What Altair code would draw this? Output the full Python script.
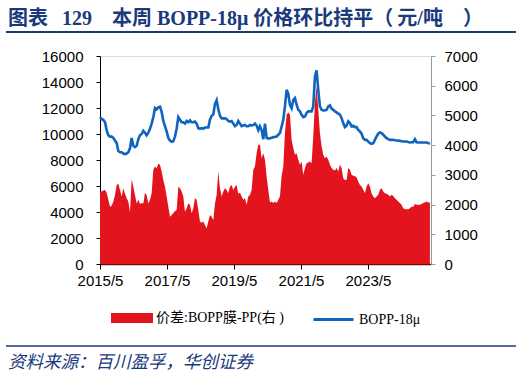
import altair as alt
import pandas as pd

# BOPP-18μ price (left axis, 元/吨), sampled evenly from 2015/5 to 2025/3
price_part1 = [
    11300, 11150, 11100, 10900, 10300, 9900, 9800, 9800, 9700, 9500,
    9300, 8700, 8600, 8600, 8500, 8450, 8500, 8600, 8900, 9700,
    9100, 9000, 9100, 9600, 9900, 10000, 10250, 10100, 9900, 10100,
    10400, 10800, 11300, 12000, 11900, 12050, 12100, 11700, 11000, 10600,
    10200, 9700, 9500, 9400, 9450, 9800, 10400, 11300, 11100, 10900,
    10900, 10800, 11000, 10900, 11050, 10900, 10900, 10950, 10800, 10450,
    10400, 10450, 10400, 10500, 10500, 10500, 11100, 11400, 11500, 12300,
    12600, 11900, 11400, 11200, 11200, 11200, 11150, 11000, 10950, 11000,
    10800, 10600, 10700, 11000, 10800, 10600, 10650, 10700, 10600, 10600,
    10700, 10650, 10700, 10800, 10650, 10300,
]
price_part2 = [
    10600, 10300, 9600, 10800, 9700, 9650, 9680, 9700, 9760, 9780,
    9810, 9940, 10070, 10580, 11090, 12120, 13400, 13100, 12250, 11990,
    12630, 12760, 12250, 11860, 11740, 11480, 11300, 11350, 11610, 11740,
    11740, 11740, 12120, 14430, 14900, 13400, 12120, 11860, 11810, 11810,
    11860, 12120, 12200, 11950, 11860, 11740, 11660, 11560, 11480, 11220,
    10840, 10530, 10630, 10970, 10840, 10580, 10630, 10530, 10530, 10320,
    10200, 10020, 9680, 9550, 9550, 9420, 9300, 9250, 9300, 9550,
    9810, 10020, 10120, 10070, 9940, 9810, 9680, 9600, 9550, 9550,
    9550, 9520, 9500, 9490, 9480, 9450, 9420, 9420, 9420, 9380,
    9350, 9360, 9370, 9600, 9370, 9350, 9350, 9350, 9350, 9350,
    9350, 9300, 9250,
]

# 价差: BOPP膜 - PP (right axis, 元/吨)
spread_part1 = [
    2440, 2440, 2470, 2490, 2400, 2160, 1930, 1960, 2100, 2320,
    2660, 2700, 2490, 2270, 2550, 2360, 2210, 2100, 1730, 2850,
    2600, 2320, 2040, 2160, 2020, 2050, 2040, 2400, 2320, 2040,
    2160, 2380, 3170, 3280, 3220, 3370, 3340, 3110, 2830, 2600,
    2270, 1930, 1590, 1650, 1710, 1780, 1820, 2600, 2550, 2440,
    2270, 1760, 1880, 2040, 1990, 1710, 1880, 2210, 2160, 1820,
    1430, 1390, 1430, 1310, 1200, 1430, 1650, 1590, 1480, 2040,
    2320, 3110, 2550, 2270, 2440, 2550, 2490, 2380, 2600, 2660,
    2490, 2600, 2660, 2360, 2400, 2270, 2160, 2210, 1990, 2270,
    2320, 2490, 3170, 3280, 3730, 4010,
]
spread_part2 = [
    4010, 3560, 3730, 3510, 2950, 2500, 2070, 2100, 2050, 2100,
    2050, 2160, 2270, 2950, 3280, 4400, 5020, 5100, 5020, 4180,
    3900, 3680, 3730, 3510, 3340, 3450, 3000, 3230, 3390, 3420,
    3450, 3390, 4290, 5420, 6000, 5190, 4400, 3960, 3680, 3560,
    3620, 3510, 3340, 3230, 3170, 3150, 3230, 3110, 3340, 3230,
    2890, 2830, 2830, 3230, 3170, 3000, 2970, 2950, 2920, 2780,
    2660, 2610, 2500, 2380, 2610, 2720, 2610, 2380, 2270, 2210,
    2270, 2330, 2500, 2550, 2440, 2380, 2360, 2330, 2270, 2330,
    2290, 2210, 2160, 2100, 2050, 1990, 1880, 1840, 1840, 1840,
    1880, 1930, 1930, 2020, 1990, 1990, 1990, 2020, 2050, 2070,
    2100, 2070, 2070,
]

price = price_part1 + price_part2
spread = spread_part1 + spread_part2
dates = pd.date_range("2015-05-01", "2025-03-07", periods=len(price))

SERIES_SPREAD = "价差:BOPP膜-PP(右 )"
SERIES_PRICE = "BOPP-18μ"
TITLE = "图表\u2002\u2009129\u2003本周 BOPP-18μ 价格环比持平（\u2009元/吨\u2003）"
SOURCE = "资料来源：百川盈孚，华创证券"

left_ticks = [0, 2000, 4000, 6000, 8000, 10000, 12000, 14000, 16000]
right_ticks = [0, 1000, 2000, 3000, 4000, 5000, 6000, 7000]
x_tick_years = [2015, 2017, 2019, 2021, 2023]

RED = "#E3141E"
BLUE = "#0F64BE"
NAVY = "#1A3A7C"
SANS = "Liberation Sans, Arial, sans-serif"
SERIF = "Times New Roman, Liberation Serif, Noto Sans CJK SC, serif"
TITLE_FONT = "Liberation Serif, Noto Sans CJK SC, serif"
CJK = "Noto Sans CJK SC, sans-serif"

df = pd.DataFrame({
    "date": dates,
    "price": price,
    "spread": spread,
    "s1": SERIES_SPREAD,
    "s2": SERIES_PRICE,
})

x_enc = alt.X(
    "date:T",
    scale=alt.Scale(domain=[alt.DateTime(year=2015, month=5, date=1),
                            alt.DateTime(year=2025, month=3, date=19)]),
    axis=alt.Axis(
        title=None,
        values=[alt.DateTime(year=y, month=5, date=1) for y in x_tick_years],
        format="%Y/%-m",
        labelFont=SANS, labelFontSize=15, labelColor="#000",
        domainColor="#6b0a0a", domainWidth=1.5,
        tickColor="#000", tickSize=5, labelPadding=4, grid=False,
        labelFlush=False,
    ),
)

base = alt.Chart(df).encode(x=x_enc)

area = base.mark_area(interpolate="linear").encode(
    y=alt.Y("spread:Q",
            scale=alt.Scale(domain=[0, 7000], nice=False),
            axis=alt.Axis(orient="right", title=None, values=right_ticks, format="d",
                          labelFont=SANS, labelFontSize=15, labelColor="#000",
                          domainColor="#999999", tickColor="#999999",
                          tickSize=4, labelPadding=9, grid=False)),
    fill=alt.Fill("s1:N", scale=alt.Scale(domain=[SERIES_SPREAD], range=[RED]),
                  legend=alt.Legend(title=None, orient="none", legendX=11, legendY=241,
                                    symbolType="M-1,-0.24L1,-0.24L1,0.24L-1,0.24Z",
                                    symbolSize=1764, symbolStrokeWidth=0,
                                    labelFont=SERIF, labelFontSize=14,
                                    labelColor="#000", labelOffset=3, padding=0)),
)

line = base.mark_line(strokeWidth=2.6, interpolate="linear").encode(
    y=alt.Y("price:Q",
            scale=alt.Scale(domain=[0, 16000], nice=False),
            axis=alt.Axis(orient="left", title=None, values=left_ticks, format="d",
                          labelFont=SANS, labelFontSize=15, labelColor="#000",
                          domainColor="#000", tickColor="#000",
                          tickSize=4, labelPadding=13, grid=False)),
    stroke=alt.Stroke("s2:N", scale=alt.Scale(domain=[SERIES_PRICE], range=[BLUE]),
                      legend=alt.Legend(title=None, orient="none", legendX=212, legendY=242,
                                        symbolType="stroke", symbolSize=1600,
                                        symbolStrokeWidth=3,
                                        labelFont=SERIF, labelFontSize=14,
                                        labelColor="#000", labelOffset=4, padding=0)),
)

one = pd.DataFrame({"t": [0]})

title = alt.Chart(pd.DataFrame({"t": [TITLE]})).mark_text(
    align="left", baseline="alphabetic", font=TITLE_FONT, fontSize=20,
    fontWeight="bold", color=NAVY
).encode(x=alt.value(-92), y=alt.value(-31), text="t:N")

top_rule = alt.Chart(one).mark_rule(color=NAVY, strokeWidth=2).encode(
    x=alt.value(-94), x2=alt.value(416), y=alt.value(-24))

bottom_rule = alt.Chart(one).mark_rule(color=NAVY, strokeWidth=1.5).encode(
    x=alt.value(-94), x2=alt.value(416), y=alt.value(290))

source = alt.Chart(pd.DataFrame({"t": [SOURCE]})).mark_text(
    align="left", baseline="middle", font=CJK, fontSize=17.5,
    fontStyle="italic", color=NAVY
).encode(x=alt.value(-92), y=alt.value(307), text="t:N")

chart = alt.layer(area, line, title, top_rule, bottom_rule, source).resolve_scale(
    y="independent"
).properties(
    width=331, height=208,
    autosize="none",
    padding={"left": 100, "top": 56, "right": 91, "bottom": 114},
).configure_view(stroke=None).configure(background="white")

chart.save("out.html", embed_options={"renderer": "svg", "actions": False})
